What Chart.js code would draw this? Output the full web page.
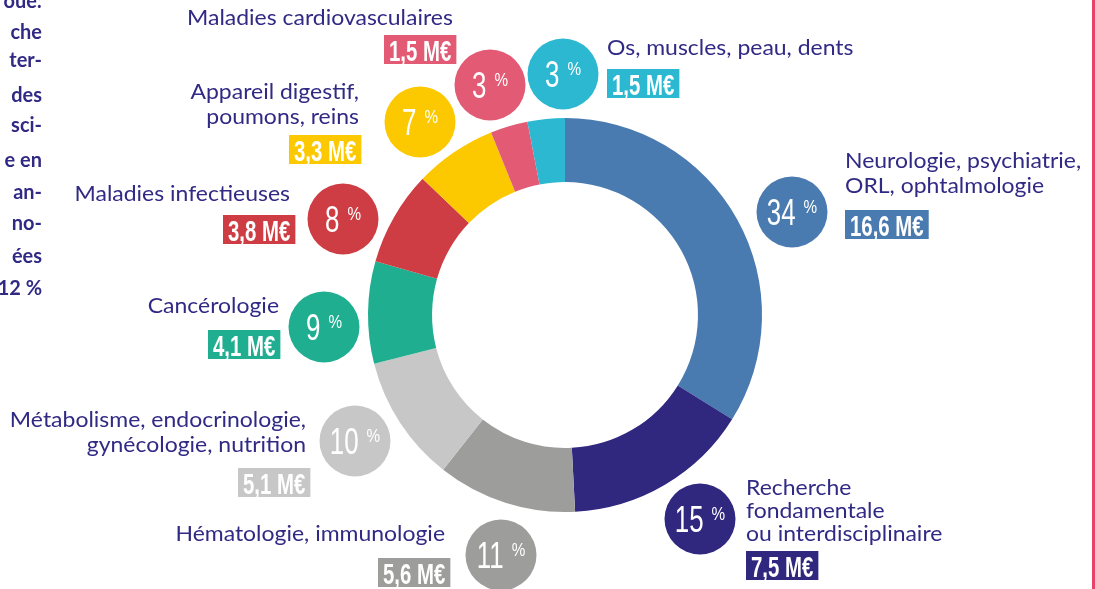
<!DOCTYPE html>
<html>
<head>
<meta charset="utf-8">
<script src="https://cdn.jsdelivr.net/npm/chart.js@4"></script>
<style>
html,body{margin:0;padding:0;background:#fff;}
#wrap{position:relative;width:1095px;height:589px;overflow:hidden;}
</style>
</head>
<body>
<div id="wrap"><canvas id="c"></canvas></div>
<script>
// ---- data ----
const categories = [
  ['Neurologie, psychiatrie,', 'ORL, ophtalmologie'],
  ['Recherche', 'fondamentale', 'ou interdisciplinaire'],
  ['Hématologie, immunologie'],
  ['Métabolisme, endocrinologie,', 'gynécologie, nutrition'],
  ['Cancérologie'],
  ['Maladies infectieuses'],
  ['Appareil digestif,', 'poumons, reins'],
  ['Maladies cardiovasculaires'],
  ['Os, muscles, peau, dents']
];
const amounts = [16.6, 7.5, 5.6, 5.1, 4.1, 3.8, 3.3, 1.5, 1.5];   // M€
const percents = [34, 15, 11, 10, 9, 8, 7, 3, 3];                 // %
const sideText = ['oue:', 'che', 'ter-', 'des', 'sci-', 'e en', 'an-', 'no-', 'ées', '12 %'];

// ---- styles / layout ----
const colors = ['#4a7bb0', '#30277f', '#9d9d9b', '#c7c7c7', '#1fae8f', '#cf3d44', '#fcc900', '#e25a73', '#2cb8d0'];
const textColor = '#312a85';
// circle centre, tag top-left, label anchor, label alignment
const layout = [
  {c:[792,212], t:[845,210], l:[845,168], a:'left'},
  {c:[700,519], t:[746,551], l:[746,495], a:'left'},
  {c:[501,555], t:[378,558], l:[445,541], a:'right'},
  {c:[355,441], t:[238,468], l:[306,427], a:'right'},
  {c:[324,327], t:[208,330], l:[279,313], a:'right'},
  {c:[343,219], t:[223,215], l:[290,201], a:'right'},
  {c:[420,122], t:[289,135], l:[359,99],  a:'right'},
  {c:[490,85],  t:[384,35],  l:[187,25],  a:'left'},
  {c:[563,74],  t:[607,69],  l:[607,55],  a:'left'}
];
const sideBaselines = [8, 39, 67, 102, 132, 167, 199, 230, 263, 295];

function fmt(v){ return v.toFixed(1).replace('.', ',') + ' M€'; }

function scaledText(ctx, txt, x, y, align, sx, font){
  ctx.font = font;
  const w = ctx.measureText(txt).width * sx;
  let x0 = x;
  if (align === 'right') x0 = x - w;
  else if (align === 'center') x0 = x - w/2;
  ctx.save();
  ctx.textAlign = 'left';
  ctx.translate(x0, y);
  ctx.scale(sx, 1);
  ctx.fillText(txt, 0, 0);
  ctx.restore();
  return w;
}

const labelsPlugin = {
  id: 'labelsPlugin',
  afterDraw(chart){
    const ctx = chart.ctx;
    const bg = chart.data.datasets[0].backgroundColor;
    ctx.save();
    ctx.textBaseline = 'alphabetic';
    // side paragraph (clipped)
    ctx.fillStyle = textColor;
    sideText.forEach((s,i)=> scaledText(ctx, s, 42, sideBaselines[i], 'right', 0.95, 'bold 21px Lato'));
    // right pink rule
    ctx.fillStyle = '#e8436a';
    ctx.fillRect(1092, 0, 3, 589);

    layout.forEach((L,i)=>{
      const col = bg[i];
      // circle
      ctx.beginPath();
      ctx.arc(L.c[0], L.c[1], 35.5, 0, Math.PI*2);
      ctx.fillStyle = col;
      ctx.fill();
      // percent text
      const num = String(percents[i]);
      const sx = 0.72;
      ctx.font = '36px "Liberation Sans"';
      const nw = ctx.measureText(num).width * sx;
      ctx.font = '18px "Liberation Sans"';
      const pw = ctx.measureText('%').width * 0.85;
      const gap = 8;
      const x0 = L.c[0] - (nw + gap + pw)/2;
      ctx.fillStyle = '#ffffff';
      scaledText(ctx, num, x0, L.c[1] + 13, 'left', sx, '36px "Liberation Sans"');
      scaledText(ctx, '%', x0 + nw + gap, L.c[1] + 1, 'left', 0.85, '18px "Liberation Sans"');

      // tag
      const tagTxt = fmt(amounts[i]);
      const tsx = 0.68;
      ctx.font = 'bold 30px "Liberation Sans"';
      const tw = ctx.measureText(tagTxt).width * tsx;
      ctx.fillStyle = col;
      ctx.fillRect(L.t[0], L.t[1], tw + 10, 29);
      ctx.fillStyle = '#ffffff';
      scaledText(ctx, tagTxt, L.t[0] + 5, L.t[1] + 25.5, 'left', tsx, 'bold 30px "Liberation Sans"');

      // label
      ctx.fillStyle = textColor;
      const lh = i === 1 ? 23 : 25;
      categories[i].forEach((line,k)=> scaledText(ctx, line, L.l[0], L.l[1] + k*lh, L.a, 1.12, '20.5px Lato'));
    });
    ctx.restore();
  }
};

new Chart(document.getElementById('c'), {
  type: 'doughnut',
  data: {
    labels: categories.map(c => c.join(' ')),
    datasets: [{
      data: amounts,
      backgroundColor: colors,
      borderWidth: 0
    }]
  },
  options: {
    responsive: true,
    maintainAspectRatio: false,
    animation: false,
    cutout: '67.5%',
    layout: { padding: { left: 368, right: 333, top: 118, bottom: 77 } },
    plugins: { legend: { display: false }, tooltip: { enabled: false } }
  },
  plugins: [labelsPlugin]
});
</script>
</body>
</html>
